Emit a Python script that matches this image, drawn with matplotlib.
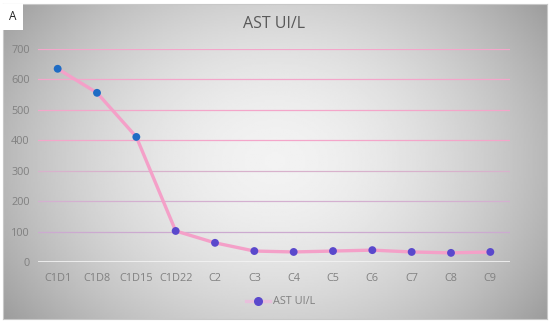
import numpy as np
import matplotlib
matplotlib.use("Agg")
import matplotlib.pyplot as plt

plt.rcParams['font.family'] = ['Open Sans', 'DejaVu Sans']

categories = ['C1D1', 'C1D8', 'C1D15', 'C1D22', 'C2', 'C3', 'C4', 'C5', 'C6', 'C7', 'C8', 'C9']
ast_values = [635, 556, 411, 102, 63, 36, 33, 36, 39, 33, 30, 33]
y_ticks = [0, 100, 200, 300, 400, 500, 600, 700]

fig = plt.figure(figsize=(5.5, 3.23), dpi=100)

# radial gray background like the Excel chart style
bg = fig.add_axes([0.006, 0.012, 0.988, 0.976])
yy, xx = np.mgrid[-1:1:200j, -1:1:300j]
r = np.sqrt((xx * 0.95) ** 2 + (yy * 0.7) ** 2)
shade = 0.95 - 0.25 * np.clip(r, 0, 1.3) ** 1.8
bg.imshow(shade, cmap='gray', vmin=0, vmax=1, aspect='auto', extent=[0, 1, 0, 1])
bg.set_xticks([])
bg.set_yticks([])
for s in bg.spines.values():
    s.set_color('#c8c8c8')
    s.set_linewidth(0.8)

# panel label
fig.text(0.016, 0.948, 'A', fontsize=8.5, color='#222222', va='center', ha='left',
         bbox=dict(boxstyle='square,pad=0.55', fc='white', ec='none'))

ax = fig.add_axes([38 / 550, 1 - 262 / 323, 472 / 550, 213 / 323])
ax.patch.set_alpha(0)
x = np.arange(len(categories))

grid_cols = ['#f4a6ca', '#f4a6ca', '#f4a6ca', '#f4a6ca', '#d8b2cc', '#d4b0d0', '#ccaad0']
for t, c in zip(y_ticks[1:][::-1], grid_cols):
    ax.axhline(t, color=c, lw=0.9, zorder=1)
ax.axhline(0, color='#f4f4f4', lw=1.2, zorder=1)

ax.plot(x, ast_values, color='#f4a0c8', lw=2.4, zorder=2, solid_capstyle='round')
marker_cols = ['#1f6cc4', '#1f6cc4', '#1f6cc4', '#5a48cc', '#5a48cc', '#5a48cc',
               '#5a48cc', '#5a48cc', '#5a48cc', '#5a48cc', '#5a48cc', '#5a48cc']
ax.scatter(x, ast_values, s=32, c=marker_cols, zorder=3, edgecolors='none')

ax.set_xlim(-0.5, len(categories) - 0.5)
ax.set_ylim(0, 700)
ax.set_yticks(y_ticks)
ax.set_xticks(x)
ax.set_xticklabels(categories)
ax.tick_params(length=0, colors='#808080', labelsize=7.8)
ax.tick_params(axis='x', pad=8)
ax.tick_params(axis='y', pad=6)
for s in ax.spines.values():
    s.set_visible(False)

ax.set_title('AST UI/L', fontsize=11.5, color='#595959', pad=15)

# legend
h1 = ax.plot([], [], color='#e8c0dc', lw=2.4, marker='o', markersize=6.5,
             markerfacecolor='#5a48cc', markeredgecolor='none')[0]
fig.legend([h1], ['AST UI/L'], loc='center', bbox_to_anchor=(0.51, 1 - 302 / 323),
           frameon=False, fontsize=7.8, labelcolor='#808080', handlelength=2.2,
           handletextpad=0.3)

fig.savefig('out.png', dpi=100)
